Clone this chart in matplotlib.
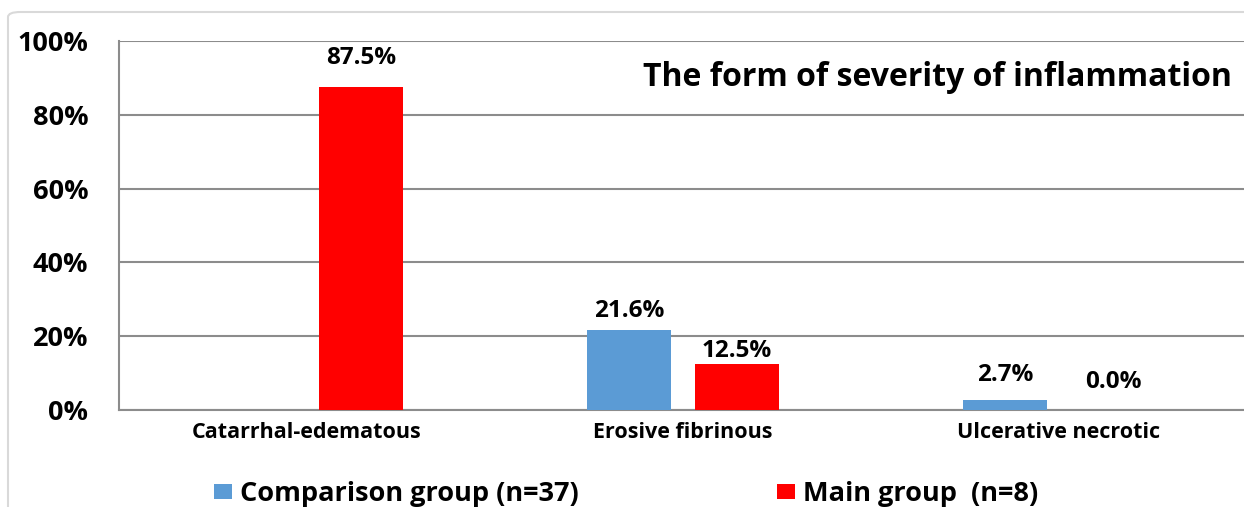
import numpy as np
import matplotlib.pyplot as plt
from matplotlib.patches import FancyBboxPatch

# Data
categories = ['Catarrhal-edematous', 'Erosive fibrinous', 'Ulcerative necrotic']
comparison_values = [np.nan, 21.6, 2.7]
main_values = [87.5, 12.5, 0.0]
series_names = ['Comparison group (n=37)', 'Main group  (n=8)']
y_ticks = [0, 20, 40, 60, 80, 100]
chart_title = 'The form of severity of inflammation'

# Style
blue = '#5B9BD5'
red = '#FF0000'
grid_color = '#8C8C8C'
plt.rcParams['font.family'] = ['Open Sans', 'DejaVu Sans']
plt.rcParams['font.weight'] = 'bold'

fig = plt.figure(figsize=(12.44, 5.07), dpi=100)

# Light outer frame (chart area border, clipped by the screenshot)
frame = FancyBboxPatch((8 / 1244, -0.2), 1.2, 0.2 + (507 - 12) / 507,
                       boxstyle='round,pad=0,rounding_size=0.01',
                       transform=fig.transFigure, facecolor='none',
                       edgecolor='#D9D9D9', linewidth=1.5)
fig.patches.append(frame)

ax = fig.add_axes([119 / 1244, 1 - 410 / 507, (1247 - 119) / 1244, (410 - 41) / 507])

x = np.arange(len(categories))
width = 0.2234
offset = 0.1436

bars_comp = ax.bar(x - offset, comparison_values, width, color=blue, label=series_names[0], zorder=3)
bars_main = ax.bar(x + offset, main_values, width, color=red, label=series_names[1], zorder=3)

# Value labels (offsets in points, as placed in the original chart)
comparison_offsets = [0, 14, 18]
main_offsets = [21, 9, 20]
for i in range(len(categories)):
    if not np.isnan(comparison_values[i]):
        ax.annotate(f'{comparison_values[i]:.1f}%', (x[i] - offset, comparison_values[i]),
                    xytext=(0, comparison_offsets[i]), textcoords='offset points',
                    ha='center', va='center', fontsize=17.5, fontweight='bold')
    ax.annotate(f'{main_values[i]:.1f}%', (x[i] + offset, main_values[i]),
                xytext=(0, main_offsets[i]), textcoords='offset points',
                ha='center', va='center', fontsize=17.5, fontweight='bold')

ax.set_xlim(-0.5, 2.5)
ax.set_ylim(0, 100)
ax.set_yticks(y_ticks)
ax.set_yticklabels([f'{t}%' for t in y_ticks], fontsize=19.5, fontweight='bold')
ax.set_xticks(x)
ax.set_xticklabels(categories, fontsize=15.5, fontweight='bold')
ax.tick_params(axis='both', length=0)
ax.tick_params(axis='y', pad=22)
ax.tick_params(axis='x', pad=9)

ax.yaxis.grid(True, color=grid_color, linewidth=1.5, zorder=0)
for side in ['top', 'right']:
    ax.spines[side].set_visible(False)
for side in ['left', 'bottom']:
    ax.spines[side].set_color(grid_color)
    ax.spines[side].set_linewidth(1.5)

# Title inside plot area
fig.text(1232 / 1244, 1 - 78 / 507, chart_title, ha='right', va='center',
         fontsize=23, fontweight='bold')

# Legend: two entries placed separately, as in the original
legend_style = dict(frameon=False, prop={'size': 19.5, 'weight': 'bold'},
                    handlelength=0.66, handleheight=0.52, handletextpad=0.3,
                    borderpad=0, borderaxespad=0)
leg1 = fig.legend([bars_comp], [series_names[0]], loc='center left',
                  bbox_to_anchor=(214 / 1244, 1 - 494 / 507), **legend_style)
fig.legend([bars_main], [series_names[1]], loc='center left',
           bbox_to_anchor=(777 / 1244, 1 - 494 / 507), **legend_style)

fig.savefig('out.png', dpi=100)
